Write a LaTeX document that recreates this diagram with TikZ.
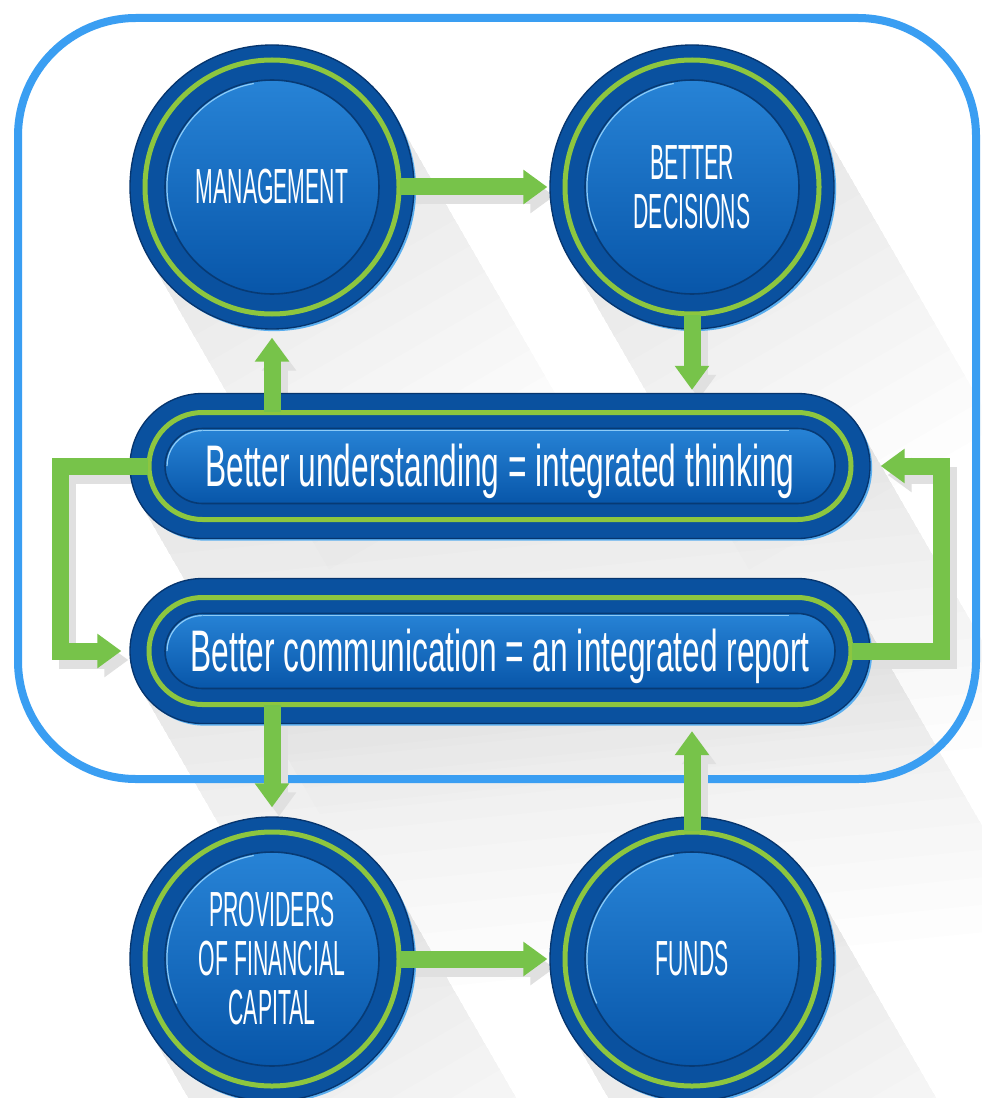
\documentclass[tikz,border=0pt]{standalone}
\usepackage{fontspec}
\newfontfamily\capfont[FakeStretch=0.43]{Liberation Sans}
\newfontfamily\pillfont[FakeStretch=0.54]{Liberation Sans}
\usetikzlibrary{arrows.meta,calc}
\definecolor{frameblue}{HTML}{3A9EF2}
\definecolor{ringblue}{HTML}{0A519F}
\definecolor{edgeblue}{HTML}{06356E}
\definecolor{rimblue}{HTML}{5AAEEF}
\definecolor{ringgreen}{HTML}{8DC63F}
\definecolor{btop}{HTML}{2783D6}
\definecolor{bbot}{HTML}{0856A9}
\definecolor{bedge}{HTML}{073A74}
\definecolor{hilite}{HTML}{8CCBF7}
\definecolor{arrowgreen}{HTML}{77C34A}
\pgfdeclarelayer{longsh}
\pgfdeclarelayer{framelayer}
\pgfdeclarelayer{arrowsh}
\pgfsetlayers{longsh,framelayer,arrowsh,main}
\tikzset{
  disc/.style={circle, minimum size=213pt, inner sep=0pt, fill=ringblue, draw=edgeblue,
    line width=1pt, text=white, align=center,
    font=\capfont\fontsize{37pt}{36.75pt}\selectfont,
    preaction={fill=rimblue, transform canvas={shift={(1.6pt,-1.6pt)}}},
    path picture={
      \draw[ringgreen, line width=3.75pt] (path picture bounding box.center) circle (95.25pt);
      \shade[top color=btop, bottom color=bbot] (path picture bounding box.center) circle (80.25pt);
      \draw[bedge, line width=1.2pt] (path picture bounding box.center) circle (80.25pt);
      \draw[hilite, line width=0.9pt, sharp corners] ($(path picture bounding box.center)+(100:78.8pt)$)
        arc[start angle=100, end angle=205, radius=78.8pt];
    }},
  pill/.style={rectangle, rounded corners=54.375pt, minimum width=555pt, minimum height=108.75pt,
    inner sep=0pt, fill=ringblue, draw=edgeblue, line width=1pt, text=white,
    text height=31pt, text depth=0pt,
    font=\pillfont\fontsize{44pt}{48pt}\selectfont,
    preaction={fill=rimblue, transform canvas={shift={(1.6pt,-1.6pt)}}},
    path picture={
      \draw[ringgreen, line width=3.75pt, rounded corners=40.1pt]
        ([shift={(14.25pt,-14.25pt)}]path picture bounding box.north west) rectangle
        ([shift={(-14.25pt,14.25pt)}]path picture bounding box.south east);
      \shade[top color=btop, bottom color=bbot, rounded corners=28.1pt]
        ([shift={(26.25pt,-26.25pt)}]path picture bounding box.north west) rectangle
        ([shift={(-26.25pt,26.25pt)}]path picture bounding box.south east);
      \draw[bedge, line width=1.2pt, rounded corners=28.1pt]
        ([shift={(26.25pt,-26.25pt)}]path picture bounding box.north west) rectangle
        ([shift={(-26.25pt,26.25pt)}]path picture bounding box.south east);
      \draw[hilite, line width=0.9pt, sharp corners]
        ([shift={(54.4pt,-27.8pt)}]path picture bounding box.north west)
        arc[start angle=90, end angle=180, radius=26.6pt];
      \draw[hilite, line width=0.9pt, sharp corners]
        ([shift={(54.4pt,-27.8pt)}]path picture bounding box.north west) -- ++(440pt,0pt);
    }},
  flow/.style={draw=arrowgreen, line width=12.75pt, line join=miter,
    -{Triangle[width=24.75pt, length=18pt]}},
  flowshadow/.style={flow, draw=black!12, transform canvas={shift={(5.25pt,-6.75pt)}}},
  shadowfill/.style={fill=black, opacity=0.0095}
}
\newcommand\flowarrow[1]{%
  \begin{pgfonlayer}{arrowsh}\draw[flowshadow] #1;\end{pgfonlayer}%
  \draw[flow] #1;}
\newcommand\castshadow[2]{%
  \foreach \k in {1,...,12}{%
    \pgfmathsetmacro\sdx{0.5*30*\k}%
    \pgfmathsetmacro\sdy{-0.866*30*\k}%
    \fill[shadowfill] (#1) -- ($(#1)+(\sdx,\sdy)$) -- ($(#2)+(\sdx,\sdy)$) -- (#2) -- cycle;}}
\begin{document}
\begin{tikzpicture}[x=0.75pt,y=0.75pt]
\useasboundingbox (0,0) rectangle (981,-1098);
\begin{pgfonlayer}{longsh}\fill[white] (0,0) rectangle (981,-1098);\end{pgfonlayer}

% nodes
\node[disc] (mgmt) at (272,-187) {MANAGEMENT};
\node[disc] (dec) at (692,-187) {BETTER\\DECISIONS};
\node[pill] (und) at (500,-466) {Better understanding = integrated thinking};
\node[pill] (comm) at (500,-651) {Better communication = an integrated report};
\node[disc] (prov) at (272,-959) {PROVIDERS\\OF FINANCIAL\\CAPITAL};
\node[disc] (funds) at (692,-959) {FUNDS};

% tangent points for long shadows
\foreach \n in {mgmt,dec,prov,funds}{
  \coordinate (\n A) at ($(\n.center)+(123,71)$);
  \coordinate (\n B) at ($(\n.center)+(-123,-71)$);
}
\foreach \n in {und,comm}{
  \coordinate (\n A) at ($(\n.center)+(360.3,36.25)$);
  \coordinate (\n B) at ($(\n.center)+(-360.3,-36.25)$);
}
\begin{pgfonlayer}{longsh}
  \castshadow{mgmtA}{mgmtB}
  \castshadow{decA}{decB}
  \castshadow{undA}{undB}
  \castshadow{commA}{commB}
  \castshadow{provA}{provB}
  \castshadow{fundsA}{fundsB}
\end{pgfonlayer}

% frame
\begin{pgfonlayer}{framelayer}
  \draw[frameblue, line width=6pt, rounded corners=88.5pt] (18,-18) rectangle (976,-779);
\end{pgfonlayer}

\coordinate (lx) at (60,0);
\coordinate (rx) at (941,0);

% connectors
\flowarrow{([xshift=-11.25pt]mgmt.east) -- ([xshift=-1.5pt]dec.west)}
\flowarrow{([yshift=11.25pt]dec.south) -- ([yshift=2.25pt]und.north -| dec.south)}
\flowarrow{([yshift=-14.25pt]und.north -| mgmt.south) -- ([yshift=-6pt]mgmt.south)}
\flowarrow{([xshift=14.25pt]und.west) -- (und.west -| lx) -- (comm.west -| lx) -- ([xshift=-6pt]comm.west)}
\flowarrow{([xshift=-14.25pt]comm.east) -- (comm.east -| rx) -- (und.east -| rx) -- ([xshift=7.5pt]und.east)}
\flowarrow{([yshift=14.25pt]comm.south -| prov.north) -- ([yshift=6.75pt]prov.north)}
\flowarrow{([yshift=-11.25pt]funds.north) -- ([yshift=-5.25pt]comm.south -| funds.north)}
\flowarrow{([xshift=-11.25pt]prov.east) -- ([xshift=-1.5pt]funds.west)}
\end{tikzpicture}
\end{document}
